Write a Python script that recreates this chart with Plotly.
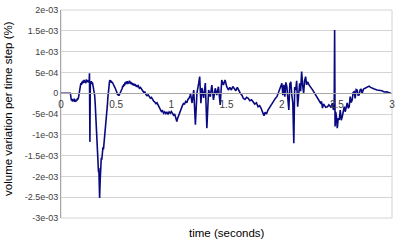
import plotly.graph_objects as go

# time (seconds)
time_s = [
    0.000, 0.040, 0.085, 0.090, 0.095, 0.100, 0.105, 0.110, 0.115, 0.120,
    0.125, 0.130, 0.135, 0.140, 0.145, 0.150, 0.155, 0.160, 0.165, 0.170,
    0.175, 0.180, 0.185, 0.190, 0.195, 0.200, 0.205, 0.210, 0.215, 0.220,
    0.225, 0.230, 0.235, 0.240, 0.245, 0.250, 0.255, 0.258, 0.262, 0.266,
    0.270, 0.275, 0.280, 0.285, 0.290, 0.295, 0.300, 0.305, 0.310, 0.315,
    0.320, 0.325, 0.330, 0.335, 0.340, 0.343, 0.346, 0.350, 0.355, 0.360,
    0.365, 0.370, 0.375, 0.380, 0.385, 0.390, 0.395, 0.400, 0.405, 0.410,
    0.415, 0.420, 0.425, 0.430, 0.435, 0.440, 0.445, 0.450, 0.455, 0.460,
    0.465, 0.470, 0.475, 0.480, 0.490, 0.500, 0.505, 0.510, 0.515, 0.520,
    0.525, 0.530, 0.540, 0.550, 0.555, 0.560, 0.565, 0.570, 0.575, 0.580,
    0.585, 0.590, 0.595, 0.600, 0.605, 0.610, 0.615, 0.620, 0.625, 0.630,
    0.635, 0.640, 0.645, 0.650, 0.655, 0.660, 0.665, 0.670, 0.680, 0.685,
    0.690, 0.700, 0.710, 0.720, 0.730, 0.740, 0.750, 0.760, 0.770, 0.780,
    0.790, 0.800, 0.810, 0.820, 0.830, 0.840, 0.850, 0.860, 0.870, 0.880,
    0.890, 0.900, 0.910, 0.920, 0.930, 0.940, 0.950, 0.960, 0.970, 0.980,
    0.990, 1.000, 1.010, 1.020, 1.030, 1.040, 1.050, 1.055, 1.060, 1.070,
    1.080, 1.090, 1.100, 1.110, 1.120, 1.130, 1.140, 1.150, 1.160, 1.170,
    1.173, 1.188, 1.203, 1.218, 1.232, 1.248, 1.257, 1.268, 1.277, 1.293,
    1.308, 1.322, 1.338, 1.353, 1.367, 1.382, 1.398, 1.412, 1.427, 1.443,
    1.457, 1.472, 1.487, 1.502, 1.517, 1.530, 1.544, 1.557, 1.571, 1.585,
    1.598, 1.612, 1.625, 1.640, 1.652, 1.667, 1.682, 1.697, 1.712, 1.727,
    1.741, 1.756, 1.771, 1.786, 1.800, 1.813, 1.826, 1.840, 1.850, 1.862,
    1.876, 1.890, 1.903, 1.916, 1.930, 1.944, 1.957, 1.970, 1.984, 2.002,
    2.011, 2.020, 2.029, 2.038, 2.047, 2.056, 2.065, 2.074, 2.083, 2.092,
    2.101, 2.110, 2.118, 2.127, 2.136, 2.145, 2.154, 2.163, 2.172, 2.181,
    2.190, 2.199, 2.208, 2.217, 2.226, 2.235, 2.248, 2.262, 2.280, 2.298,
    2.311, 2.325, 2.338, 2.352, 2.361, 2.370, 2.379, 2.388, 2.400, 2.415,
    2.428, 2.442, 2.451, 2.460, 2.469, 2.476, 2.480, 2.484, 2.490, 2.496,
    2.504, 2.513, 2.522, 2.531, 2.540, 2.549, 2.558, 2.567, 2.576, 2.585,
    2.594, 2.603, 2.612, 2.621, 2.630, 2.639, 2.648, 2.657, 2.666, 2.675,
    2.684, 2.693, 2.702, 2.711, 2.720, 2.729, 2.742, 2.756, 2.774, 2.792,
    2.806, 2.819, 2.840, 2.864, 2.885, 2.908, 2.930, 2.953, 2.975, 2.990,
]

# volume variation per time step (%)
vol_var = [
    0, 0, 0, -1.0e-4, -1.8e-4, -1.4e-4, -2.0e-4, -1.5e-4, -1.9e-4, -1.3e-4,
    -2.1e-4, -1.6e-4, -2.0e-4, -1.5e-4, -1.8e-4, -1.2e-4, -1.5e-4, -0.8e-4, 0.2e-4, 1.2e-4,
    2.0e-4, 2.4e-4, 2.0e-4, 2.8e-4, 2.3e-4, 3.0e-4, 2.5e-4, 3.2e-4, 2.6e-4, 3.0e-4,
    2.4e-4, 3.3e-4, 2.8e-4, 3.1e-4, 2.6e-4, 3.0e-4, 2.7e-4, 4.8e-4, -1.17e-3, 2.8e-4,
    2.5e-4, 2.9e-4, 2.2e-4, 2.6e-4, 1.8e-4, 1.2e-4, 0.8e-4, -0.5e-4, -2.5e-4, -5.5e-4,
    -9.0e-4, -1.2e-3, -1.45e-3, -1.65e-3, -1.9e-3, -1.8e-3, -2.2e-3, -2.52e-3, -2.1e-3, -1.75e-3,
    -1.55e-3, -1.6e-3, -1.4e-3, -1.3e-3, -1.35e-3, -1.2e-3, -1.25e-3, -1.0e-3, -0.95e-3, -0.75e-3,
    -0.5e-3, -0.3e-3, -0.1e-3, 1.0e-4, 2.2e-4, 2.9e-4, 3.1e-4, 2.6e-4, 3.0e-4, 2.5e-4,
    2.7e-4, 2.2e-4, 2.4e-4, 1.8e-4, 1.3e-4, 0.8e-4, 0.3e-4, -0.2e-4, -0.5e-4, -0.2e-4,
    -0.6e-4, -0.3e-4, 0.2e-4, 0.6e-4, 1.2e-4, 1.8e-4, 1.5e-4, 2.2e-4, 1.8e-4, 2.6e-4,
    2.1e-4, 2.8e-4, 2.3e-4, 2.9e-4, 2.2e-4, 2.7e-4, 2.4e-4, 3.0e-4, 2.3e-4, 2.8e-4,
    2.2e-4, 2.6e-4, 2.0e-4, 2.4e-4, 1.9e-4, 2.3e-4, 1.8e-4, 2.2e-4, 1.6e-4, 2.0e-4,
    1.5e-4, 1.8e-4, 1.2e-4, 1.4e-4, 0.8e-4, 0.6e-4, 0.2e-4, 0.3e-4, -0.3e-4, -0.6e-4,
    -0.4e-4, -0.9e-4, -1.2e-4, -1.0e-4, -1.5e-4, -1.9e-4, -2.1e-4, -2.5e-4, -2.3e-4, -2.8e-4,
    -3.2e-4, -3.8e-4, -4.4e-4, -4.2e-4, -4.8e-4, -4.5e-4, -4.9e-4, -4.6e-4, -5.0e-4, -4.5e-4,
    -4.8e-4, -4.4e-4, -5.1e-4, -5.3e-4, -5.0e-4, -5.8e-4, -6.8e-4, -6.2e-4, -5.8e-4, -5.0e-4,
    -4.4e-4, -3.6e-4, -3.0e-4, -2.5e-4, -2.6e-4, -2.0e-4, -2.3e-4, -1.5e-4, -1.2e-4, -0.6e-4,
    0, -2.36e-4, 0.77e-4, -7.6e-4, 0, 2.4e-4, 4.0e-4, -2.4e-4, 1.25e-4, -1.15e-4,
    2.45e-4, -8.4e-4, 0.77e-4, -0.84e-4, 1.97e-4, -1.63e-4, 1.18e-4, -0.43e-4, 1.56e-4, -2.84e-4,
    3.17e-4, 1.97e-4, 3.17e-4, 1.56e-4, 0.77e-4, 1.4e-4, 0.77e-4, 1.6e-4, 1.18e-4, 0.6e-4,
    1.42e-4, 0.5e-4, 0, -0.5e-4, -1.23e-4, -1.5e-4, -1.0e-4, -1.23e-4, -1.8e-4, -1.6e-4,
    -2.04e-4, -2.6e-4, -2.3e-4, -3.25e-4, -3.0e-4, -3.56e-4, -4.5e-4, -5.4e-4, -4.6e-4, -5.0e-4,
    -4.04e-4, -3.4e-4, -2.84e-4, -2.3e-4, -1.63e-4, -1.2e-4, -0.84e-4, 0.2e-4, 0.77e-4, 2.4e-4,
    -0.5e-4, 2.0e-4, -0.84e-4, 2.6e-4, 1.56e-4, -1.5e-4, -4.04e-4, 2.2e-4, 2.76e-4, -0.5e-4,
    -2.36e-4, -1.2e-3, 1.5e-4, 0.77e-4, 3.0e-4, -3.25e-4, 1.2e-4, 2.38e-4, 0.5e-4, 5.2e-4,
    2.0e-4, 0, 3.0e-4, 3.97e-4, 2.0e-4, 2.76e-4, 2.0e-4, 1.56e-4, 0.8e-4, 0,
    -0.6e-4, -1.23e-4, -1.8e-4, -2.36e-4, -2.0e-4, -3.56e-4, -2.6e-4, -2.84e-4, -3.4e-4, -3.25e-4,
    -2.8e-4, -3.25e-4, -3.0e-4, -2.36e-4, -4.04e-4, -3.0e-4, 1.52e-3, -8.0e-4, -4.5e-4, -5.65e-4,
    -8.4e-4, -6.0e-4, -6.44e-4, -4.04e-4, -6.5e-4, -5.65e-4, -4.0e-4, -3.25e-4, -4.45e-4, -2.8e-4,
    -2.36e-4, -3.6e-4, -3.25e-4, -0.84e-4, -2.2e-4, -1.63e-4, 0.2e-4, 0.36e-4, -1.23e-4, 0.9e-4,
    0.77e-4, -0.5e-4, -0.43e-4, 0.77e-4, 1.0e-4, 0, 1.0e-4, 1.18e-4, 1.4e-4, 1.7e-4,
    1.4e-4, 1.18e-4, 1.0e-4, 0.77e-4, 0.7e-4, 0.6e-4, 0.3e-4, 0.36e-4, 0.1e-4, 0,
]

y_tick_vals = [2e-3, 1.5e-3, 1e-3, 5e-4, 0, -5e-4, -1e-3, -1.5e-3, -2e-3, -2.5e-3, -3e-3]
y_tick_text = ["2e-03", "1.5e-03", "1e-03", "5e-04", "0", "-5e-04", "-1e-03",
               "-1.5e-03", "-2e-03", "-2.5e-03", "-3e-03"]
x_tick_vals = [0, 0.5, 1, 1.5, 2, 2.5, 3]
x_tick_text = ["0", "0.5", "1", "1.5", "2", "2.5", "3"]

FONT = "Liberation Sans"
GRID = "#d4d4d4"
TEXT = "#404040"

fig = go.Figure()
fig.add_trace(go.Scatter(
    x=time_s, y=vol_var, mode="lines",
    line=dict(color="#0a0a80", width=1.6),
    showlegend=False, hoverinfo="skip",
))

fig.update_layout(
    width=400, height=243,
    margin=dict(l=61, r=5, t=10, b=25),
    paper_bgcolor="white", plot_bgcolor="white",
    font=dict(family=FONT, color=TEXT),
    xaxis=dict(
        range=[0, 3], tickvals=x_tick_vals, ticktext=x_tick_text,
        anchor="free", position=0.6,
        showgrid=False, zeroline=False,
        showline=True, linecolor="#a6a6a6", linewidth=1,
        ticks="", ticklabelstandoff=2,
        tickfont=dict(size=10, color=TEXT, family=FONT),
    ),
    yaxis=dict(
        range=[-3e-3, 2e-3], tickvals=y_tick_vals, ticktext=y_tick_text,
        showgrid=True, gridcolor=GRID, gridwidth=1,
        zeroline=False,
        showline=True, linecolor="#a6a6a6", linewidth=1,
        ticks="", tickfont=dict(size=9, color=TEXT, family=FONT),
    ),
    shapes=[dict(type="rect", xref="paper", yref="paper", x0=0, x1=1, y0=0, y1=1,
                 line=dict(color=GRID, width=1), layer="below")],
    annotations=[
        dict(text="time (seconds)", xref="paper", yref="paper", x=0.5, y=-0.072,
             xanchor="center", yanchor="middle", showarrow=False,
             font=dict(size=11.5, color="#000000", family=FONT)),
        dict(text="volume variation per time step (%)", xref="paper", yref="paper",
             x=-0.162, y=0.526, textangle=-90, xanchor="center", yanchor="middle",
             showarrow=False, font=dict(size=11.5, color="#000000", family=FONT)),
    ],
)

fig.write_html("out.html")
